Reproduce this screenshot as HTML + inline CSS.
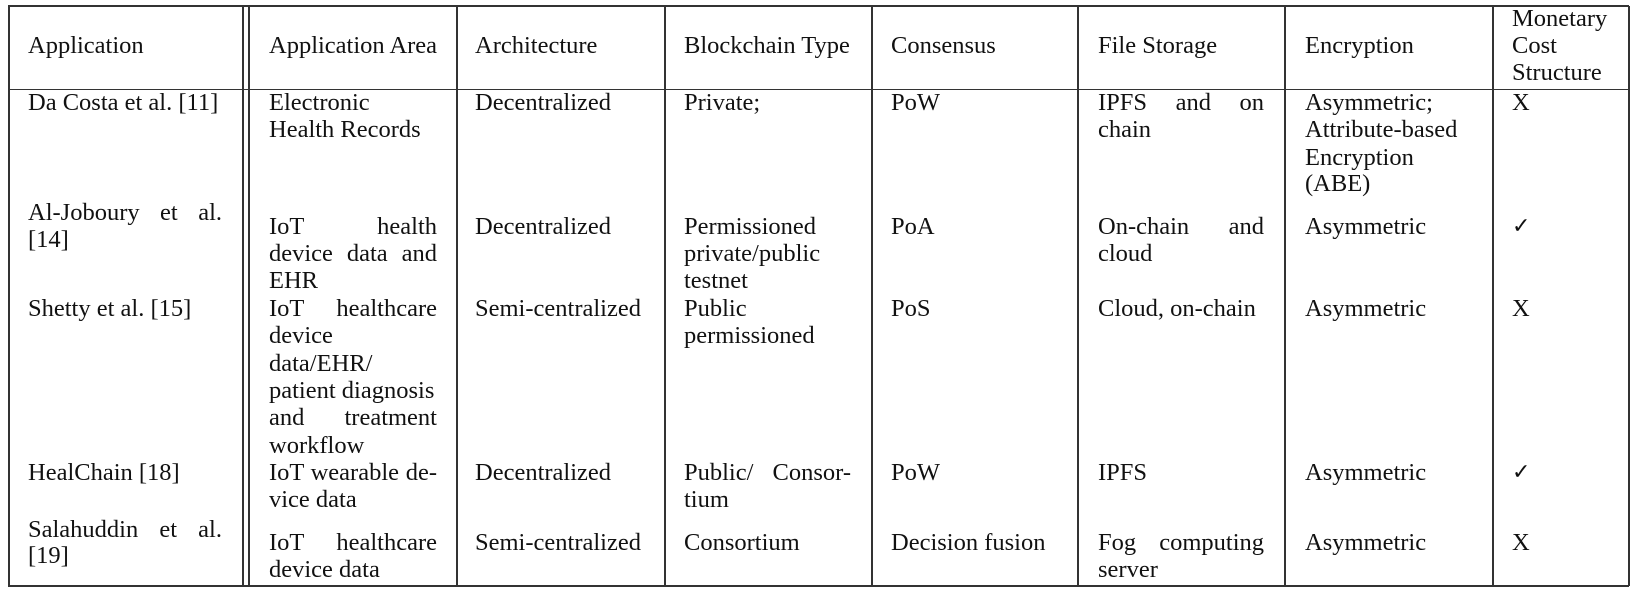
<!DOCTYPE html>
<html><head><meta charset="utf-8"><style>
body{margin:0;width:1636px;height:592px;background:#fff;position:relative;overflow:hidden;font-family:"Liberation Serif",serif;font-size:24.5px;color:#111}
.l{position:absolute;white-space:nowrap;line-height:27px;height:27px}
.j{text-align:justify;text-align-last:justify;white-space:normal;overflow:hidden}
.v{position:absolute;top:6px;width:1.5px;height:580px;background:#333}
.h{position:absolute;left:8px;width:1621px;height:1.5px;background:#333}
.c{font-family:'DejaVu Sans',sans-serif;font-size:22px}
</style></head><body>
<div class="h" style="top:5px"></div>
<div class="h" style="top:88.5px"></div>
<div class="h" style="top:585px"></div>
<div class="v" style="left:8px"></div>
<div class="v" style="left:242px"></div>
<div class="v" style="left:248px"></div>
<div class="v" style="left:456px"></div>
<div class="v" style="left:664px"></div>
<div class="v" style="left:871px"></div>
<div class="v" style="left:1077px"></div>
<div class="v" style="left:1284px"></div>
<div class="v" style="left:1492px"></div>
<div class="v" style="left:1628px"></div>

<!-- header -->
<div class="l" style="left:28px;top:32px">Application</div>
<div class="l" style="left:269px;top:32px">Application Area</div>
<div class="l" style="left:475px;top:32px">Architecture</div>
<div class="l" style="left:684px;top:32px">Blockchain Type</div>
<div class="l" style="left:891px;top:32px">Consensus</div>
<div class="l" style="left:1098px;top:32px">File Storage</div>
<div class="l" style="left:1305px;top:32px">Encryption</div>
<div class="l" style="left:1512px;top:5px">Monetary</div>
<div class="l" style="left:1512px;top:32px">Cost</div>
<div class="l" style="left:1512px;top:59px">Structure</div>

<!-- row1 -->
<div class="l" style="left:28px;top:89px">Da Costa et al. [11]</div>
<div class="l" style="left:269px;top:89px">Electronic</div>
<div class="l" style="left:269px;top:116px">Health Records</div>
<div class="l" style="left:475px;top:89px">Decentralized</div>
<div class="l" style="left:684px;top:89px">Private;</div>
<div class="l" style="left:891px;top:89px">PoW</div>
<div class="l j" style="left:1098px;top:89px;width:166px">IPFS and on</div>
<div class="l" style="left:1098px;top:116px">chain</div>
<div class="l" style="left:1305px;top:89px">Asymmetric;</div>
<div class="l" style="left:1305px;top:116px">Attribute-based</div>
<div class="l" style="left:1305px;top:144px">Encryption</div>
<div class="l" style="left:1305px;top:170px">(ABE)</div>
<div class="l" style="left:1512px;top:89px">X</div>

<!-- row2 -->
<div class="l j" style="left:28px;top:199px;width:194px">Al-Joboury et al.</div>
<div class="l" style="left:28px;top:226px">[14]</div>
<div class="l j" style="left:269px;top:213px;width:168px">IoT health</div>
<div class="l j" style="left:269px;top:240px;width:168px">device data and</div>
<div class="l" style="left:269px;top:267px">EHR</div>
<div class="l" style="left:475px;top:213px">Decentralized</div>
<div class="l" style="left:684px;top:213px">Permissioned</div>
<div class="l" style="left:684px;top:240px">private/public</div>
<div class="l" style="left:684px;top:267px">testnet</div>
<div class="l" style="left:891px;top:213px">PoA</div>
<div class="l j" style="left:1098px;top:213px;width:166px">On-chain and</div>
<div class="l" style="left:1098px;top:240px">cloud</div>
<div class="l" style="left:1305px;top:213px">Asymmetric</div>
<div class="l c" style="left:1512px;top:213px">✓</div>

<!-- row3 -->
<div class="l" style="left:28px;top:295px">Shetty et al. [15]</div>
<div class="l j" style="left:269px;top:295px;width:168px">IoT healthcare</div>
<div class="l" style="left:269px;top:322px">device</div>
<div class="l" style="left:269px;top:350px">data/EHR/</div>
<div class="l" style="left:269px;top:377px">patient diagnosis</div>
<div class="l j" style="left:269px;top:404px;width:168px">and treatment</div>
<div class="l" style="left:269px;top:432px">workflow</div>
<div class="l" style="left:475px;top:295px">Semi-centralized</div>
<div class="l" style="left:684px;top:295px">Public</div>
<div class="l" style="left:684px;top:322px">permissioned</div>
<div class="l" style="left:891px;top:295px">PoS</div>
<div class="l" style="left:1098px;top:295px">Cloud, on-chain</div>
<div class="l" style="left:1305px;top:295px">Asymmetric</div>
<div class="l" style="left:1512px;top:295px">X</div>

<!-- row4 -->
<div class="l" style="left:28px;top:459px">HealChain [18]</div>
<div class="l j" style="left:269px;top:459px;width:168px">IoT wearable de-</div>
<div class="l" style="left:269px;top:486px">vice data</div>
<div class="l" style="left:475px;top:459px">Decentralized</div>
<div class="l j" style="left:684px;top:459px;width:167px">Public/ Consor-</div>
<div class="l" style="left:684px;top:486px">tium</div>
<div class="l" style="left:891px;top:459px">PoW</div>
<div class="l" style="left:1098px;top:459px">IPFS</div>
<div class="l" style="left:1305px;top:459px">Asymmetric</div>
<div class="l c" style="left:1512px;top:459px">✓</div>

<!-- row5 -->
<div class="l j" style="left:28px;top:516px;width:194px">Salahuddin et al.</div>
<div class="l" style="left:28px;top:542px">[19]</div>
<div class="l j" style="left:269px;top:529px;width:168px">IoT healthcare</div>
<div class="l" style="left:269px;top:556px">device data</div>
<div class="l" style="left:475px;top:529px">Semi-centralized</div>
<div class="l" style="left:684px;top:529px">Consortium</div>
<div class="l" style="left:891px;top:529px">Decision fusion</div>
<div class="l j" style="left:1098px;top:529px;width:166px">Fog computing</div>
<div class="l" style="left:1098px;top:556px">server</div>
<div class="l" style="left:1305px;top:529px">Asymmetric</div>
<div class="l" style="left:1512px;top:529px">X</div>
</body></html>
